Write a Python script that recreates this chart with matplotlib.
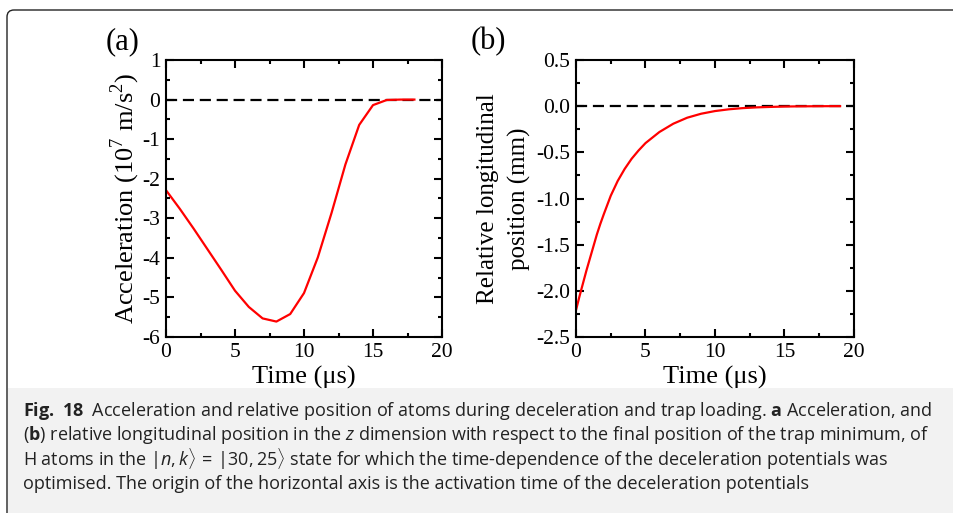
import numpy as np
import matplotlib
matplotlib.use("Agg")
import matplotlib.pyplot as plt
from matplotlib.patches import FancyBboxPatch, Rectangle
from matplotlib.ticker import MultipleLocator, FormatStrFormatter
from matplotlib import font_manager

# panel (a): acceleration, piecewise linear at integer times
t_acc = [0, 1, 2, 3, 4, 5, 6, 7, 8, 9, 10, 11, 12, 13, 14, 15, 16, 17, 18]
acc = [-2.29, -2.76, -3.26, -3.78, -4.3, -4.83, -5.24, -5.53, -5.61, -5.42,
       -4.89, -3.99, -2.86, -1.64, -0.64, -0.14, -0.01, 0.0, 0.0]

# panel (b): relative longitudinal position
t_pos = [0, 0.25, 0.5, 0.75, 1, 1.25, 1.5, 1.75, 2, 2.5, 3, 3.5, 4, 4.5, 5, 6, 7, 8,
         9, 10, 11, 12, 13, 14, 15, 16, 17, 18, 19]
pos = [-2.21, -2.06, -1.92, -1.78, -1.65, -1.52, -1.39, -1.275, -1.17, -0.97,
       -0.81, -0.68, -0.57, -0.48, -0.40, -0.28, -0.19, -0.125, -0.082, -0.053,
       -0.034, -0.021, -0.013, -0.008, -0.004, -0.002, -0.001, 0.0, 0.0]

W, H = 954, 513
fig = plt.figure(figsize=(W / 100, H / 100), dpi=100)
plt.rcParams["axes.unicode_minus"] = False

serif = ["Liberation Serif", "DejaVu Serif"]
names = {f.name for f in font_manager.fontManager.ttflist}
narrow = "Liberation Sans Narrow" if "Liberation Sans Narrow" in names else "Open Sans"
plt.rcParams["mathtext.fontset"] = "custom"
plt.rcParams["mathtext.rm"] = narrow
plt.rcParams["mathtext.it"] = narrow + ":italic"
plt.rcParams["mathtext.bf"] = narrow + ":bold"

# frame and caption box (pixel coords, y from top)
def px(x, y):
    return x / W, 1 - y / H

frame = FancyBboxPatch((7, -100), 1100, H - 10 + 100, boxstyle="round,pad=0,rounding_size=7",
                       transform=None, fill=False, edgecolor="#222222", linewidth=1.0)
fig.patches.append(frame)
cap = Rectangle((8, -10), 1000, H - 388 + 10, transform=None, facecolor="#f2f2f2",
                edgecolor="none", zorder=-1)
fig.patches.append(cap)


def make_axes(l, r, t, b):
    x0, y0 = px(l, b)
    x1, y1 = px(r, t)
    ax = fig.add_axes([x0, y0, x1 - x0, y1 - y0])
    for s in ax.spines.values():
        s.set_linewidth(1.5)
    ax.tick_params(which="both", direction="in", top=True, right=True, width=1.5,
                   labelsize=15.5, pad=4)
    ax.tick_params(which="major", length=6)
    ax.tick_params(which="minor", length=3)
    return ax


dash = (0, (5, 2.6))

ax1 = make_axes(166, 442, 60, 337)
ax1.plot(t_acc, acc, color="red", lw=1.6)
ax1.axhline(0, color="black", lw=1.6, linestyle=dash, zorder=1)
ax1.set_xlim(0, 20)
ax1.set_ylim(-6, 1)
ax1.xaxis.set_major_locator(MultipleLocator(5))
ax1.xaxis.set_minor_locator(MultipleLocator(2.5))
ax1.yaxis.set_major_locator(MultipleLocator(1))
ax1.yaxis.set_minor_locator(MultipleLocator(0.5))
ax1.set_xlabel("Time (\u03bcs)", fontsize=19, family=serif)
ax1.set_ylabel(r"Acceleration (10$^{\mathregular{7}}$ m/s$^{\mathregular{2}}$)", fontsize=19,
               family=serif)
ax1.xaxis.set_label_coords(0.5, -0.103)
ax1.yaxis.set_label_coords(-0.088, 0.5)
for lab in ax1.get_xticklabels() + ax1.get_yticklabels():
    lab.set_family(serif)

ax2 = make_axes(576, 854, 60, 337)
ax2.plot(t_pos, pos, color="red", lw=1.6)
ax2.axhline(0, color="black", lw=1.6, linestyle=dash, zorder=1)
ax2.set_xlim(0, 20)
ax2.set_ylim(-2.5, 0.5)
ax2.xaxis.set_major_locator(MultipleLocator(5))
ax2.xaxis.set_minor_locator(MultipleLocator(2.5))
ax2.yaxis.set_major_locator(MultipleLocator(0.5))
ax2.yaxis.set_minor_locator(MultipleLocator(0.25))
ax2.yaxis.set_major_formatter(FormatStrFormatter("%.1f"))
ax2.set_xlabel("Time (\u03bcs)", fontsize=19, family=serif)
ax2.set_ylabel("Relative longitudinal\nposition (mm)", fontsize=18, family=serif,
               linespacing=1.5)
ax2.xaxis.set_label_coords(0.5, -0.103)
ax2.yaxis.set_label_coords(-0.162, 0.5)
for lab in ax2.get_xticklabels() + ax2.get_yticklabels():
    lab.set_family(serif)

fig.text(*px(123, 42), "(a)", fontsize=22, family=serif, ha="center", va="center")
fig.text(*px(488, 42), "(b)", fontsize=22, family=serif, ha="center", va="center")

caption = [
    r"$\mathbf{Fig.\ 18}$  Acceleration and relative position of atoms during deceleration and trap loading. $\mathbf{a}$ Acceleration, and",
    r"($\mathbf{b}$) relative longitudinal position in the $z$ dimension with respect to the final position of the trap minimum, of",
    r"H atoms in the $|n, k\rangle\,=\,|30, 25\rangle$ state for which the time-dependence of the deceleration potentials was",
    "optimised. The origin of the horizontal axis is the activation time of the deceleration potentials",
]
for i, line in enumerate(caption):
    fig.text(*px(23, 411 + 24.3 * i), line, fontsize=13, family=[narrow, "DejaVu Sans"],
             ha="left", va="center", color="#222222")

fig.savefig("out.png", dpi=100)
